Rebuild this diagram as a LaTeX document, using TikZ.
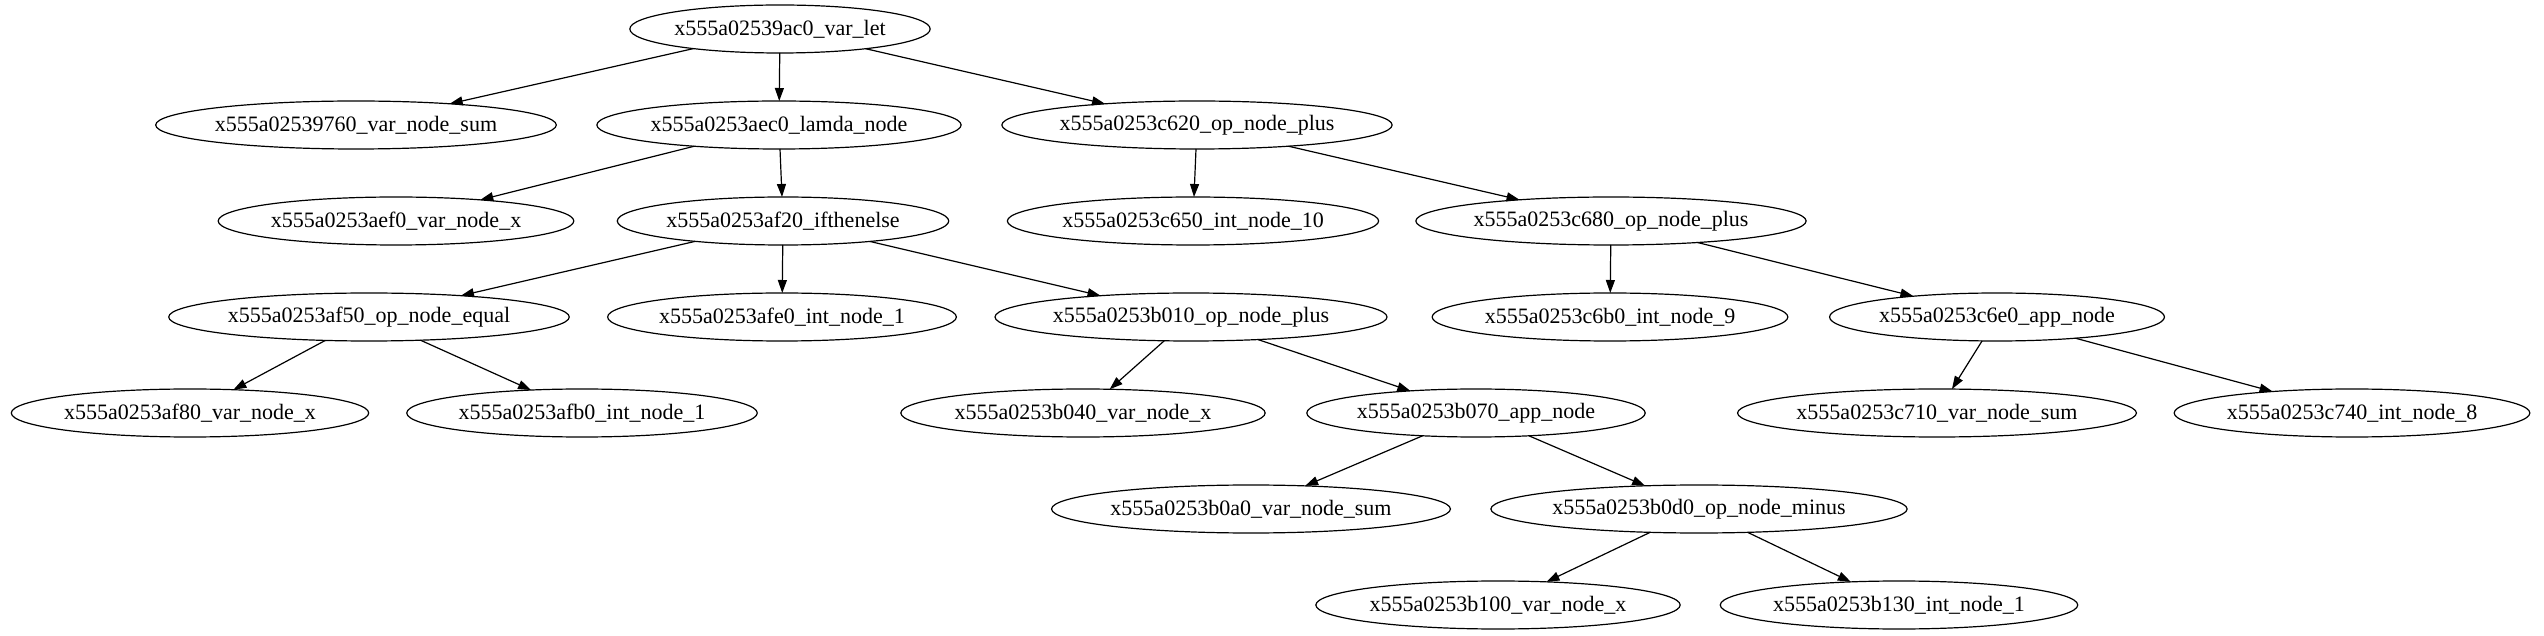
\documentclass[tikz,border=0pt]{standalone}
\usepackage{fontspec}
\setmainfont{Liberation Serif}
\usepackage{tikz}
\usepackage{tkz-graph}
\usetikzlibrary{arrows,arrows.meta,shapes.geometric,calc,positioning}

\begin{document}
\begin{tikzpicture}[x=1pt,y=1pt]
    \useasboundingbox (0,0) rectangle (2544,635);
    \tikzset{VertexStyle/.style = {draw, ellipse,
        line width = 1.2pt,
        inner xsep = 0.5pt,
        inner ysep = 0pt,
        minimum height = 48pt,
        font = \fontsize{22}{26}\selectfont},
      EdgeStyle/.style = {-{Triangle[length=13pt,width=9pt]}, line width=1.2pt}}
    \Vertex[L=x555a02539ac0\_var\_let,x=780,y=606]{A0}

    \Vertex[L=x555a02539760\_var\_node\_sum,x=356,y=510]{A1}
    \Vertex[L=x555a0253aec0\_lamda\_node,x=779,y=510]{B1}
    \Vertex[L=x555a0253c620\_op\_node\_plus,x=1197,y=510]{C1}
    \Edge(A0)(A1)
    \Edge(A0)(B1)
    \Edge(A0)(C1)

    \Vertex[L=x555a0253aef0\_var\_node\_x,x=396,y=414]{A2}
    \Vertex[L=x555a0253af20\_ifthenelse,x=783,y=414]{B2}
    \Vertex[L=x555a0253c650\_int\_node\_10,x=1193,y=414]{C2}
    \Vertex[L=x555a0253c680\_op\_node\_plus,x=1611,y=414]{D2}
    \Edge(B1)(A2)
    \Edge(B1)(B2)
    \Edge(C1)(C2)
    \Edge(C1)(D2)

    \Vertex[L=x555a0253af50\_op\_node\_equal,x=369,y=318]{A3}
    \Vertex[L=x555a0253afe0\_int\_node\_1,x=782,y=318]{B3}
    \Vertex[L=x555a0253b010\_op\_node\_plus,x=1191,y=318]{C3}
    \Vertex[L=x555a0253c6b0\_int\_node\_9,x=1610,y=318]{D3}
    \Vertex[L=x555a0253c6e0\_app\_node,x=1997,y=318]{E3}
    \Edge(B2)(A3)
    \Edge(B2)(B3)
    \Edge(B2)(C3)
    \Edge(D2)(D3)
    \Edge(D2)(E3)

    \Vertex[L=x555a0253af80\_var\_node\_x,x=190,y=222]{A4}
    \Vertex[L=x555a0253afb0\_int\_node\_1,x=582,y=222]{B4}
    \Vertex[L=x555a0253b040\_var\_node\_x,x=1083,y=222]{C4}
    \Vertex[L=x555a0253b070\_app\_node,x=1476,y=222]{D4}
    \Vertex[L=x555a0253c710\_var\_node\_sum,x=1937,y=222]{E4}
    \Vertex[L=x555a0253c740\_int\_node\_8,x=2352,y=222]{F4}
    \Edge(A3)(A4)
    \Edge(A3)(B4)
    \Edge(C3)(C4)
    \Edge(C3)(D4)
    \Edge(E3)(E4)
    \Edge(E3)(F4)

    \Vertex[L=x555a0253b0a0\_var\_node\_sum,x=1251,y=126]{A5}
    \Vertex[L=x555a0253b0d0\_op\_node\_minus,x=1699,y=126]{B5}
    \Edge(D4)(A5)
    \Edge(D4)(B5)

    \Vertex[L=x555a0253b100\_var\_node\_x,x=1498,y=30]{A6}
    \Vertex[L=x555a0253b130\_int\_node\_1,x=1899,y=30]{B6}
    \Edge(B5)(A6)
    \Edge(B5)(B6)
  \end{tikzpicture}
\end{document}
